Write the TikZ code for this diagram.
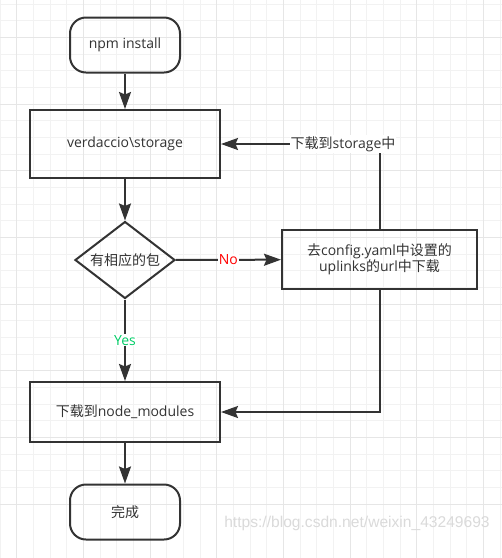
\documentclass[tikz,border=0pt]{standalone}
\usepackage{fontspec}
\setmainfont{Open Sans}
\newfontfamily\cjk{Noto Sans CJK SC}
\newfontfamily\wmfont{Liberation Sans}
\usetikzlibrary{shapes.geometric,arrows.meta}

\definecolor{linegray}{HTML}{333333}
\definecolor{gridminor}{HTML}{F2F2F2}
\definecolor{gridmajor}{HTML}{E6E6E6}
\definecolor{yesgreen}{HTML}{00CC66}
\definecolor{markgray}{HTML}{DADADA}

\begin{document}
\begin{tikzpicture}[x=1pt,y=-1pt,
    font=\fontsize{14}{16}\selectfont, text=linegray,
    terminal/.style={draw=linegray, line width=2pt, rounded corners=16pt,
        minimum width=110pt, minimum height=55pt, inner sep=0pt},
    process/.style={draw=linegray, line width=2pt, minimum width=190pt,
        inner sep=0pt, align=center},
    decision/.style={diamond, draw=linegray, line width=2pt, aspect=1.3,
        minimum width=100pt, minimum height=77pt, inner sep=0pt},
    flow/.style={draw=linegray, line width=2pt,
        -{Stealth[length=17pt,width=12pt,inset=2.5pt]}},
    lbl/.style={fill=white, inner sep=1pt}]
    \useasboundingbox (0,0) rectangle (502,558);
    \fill[white] (0,0) rectangle (502,558);

    \pgfmathsetmacro {\gs}{16.667}  %Grid spacing
    \pgfmathsetmacro {\gy}{4}       %Grid y-offset

    %Loop for drawing the background grid
    \foreach \k in {0,...,30} {
        \draw[gridminor, line width=1pt] (\k*\gs,0) -- (\k*\gs,558);     %Vertical lines
        \draw[gridminor, line width=1pt] (0,\gy+\k*\gs) -- (502,\gy+\k*\gs); %Horizontal lines
    }
    \foreach \k in {1,5,...,29} {
        \draw[gridmajor, line width=1pt] (\k*\gs,0) -- (\k*\gs,558);
    }
    \foreach \k in {2,6,...,30} {
        \draw[gridmajor, line width=1pt] (0,\gy+\k*\gs) -- (502,\gy+\k*\gs);
    }

    %Flow chart nodes
    \node[terminal] (start) at (125,45) {npm install};
    \node[process, minimum height=68pt] (store) at (125,144) {verdaccio\textbackslash storage};
    \node[decision] (check) at (125,260) {\cjk 有相应的包};
    \node[process, minimum width=195pt, minimum height=59pt] (uplink) at (379.5,259.5)
        {{\cjk 去}config.yaml{\cjk 中设置的}\\uplinks{\cjk 的}url{\cjk 中下载}};
    \node[process, minimum height=60pt] (modules) at (125,412) {{\cjk 下载到}node\_modules};
    \node[terminal] (done) at (125,512) {\cjk 完成};

    %Watermark
    \node[text=markgray, font=\wmfont\fontsize{15.6}{17}\selectfont] (mark) at (357,523)
        {https://blog.csdn.net/weixin\_43249693};

    %Connectors
    \draw[flow] (start) -- (store);
    \draw[flow] (store) -- (check);
    \draw[flow] (check) -- node[lbl, text=red] {No} (uplink);
    \draw[flow] (check) -- node[lbl, text=yesgreen] {Yes} (modules);
    \draw[flow] (uplink.north) -- (uplink.north |- store.east)
        -- node[lbl, pos=0.23] {{\cjk 下载到}storage{\cjk 中}} (store.east);
    \draw[flow] (uplink.south) |- (modules.east);
    \draw[flow] (modules) -- (done);
\end{tikzpicture}
\end{document}
